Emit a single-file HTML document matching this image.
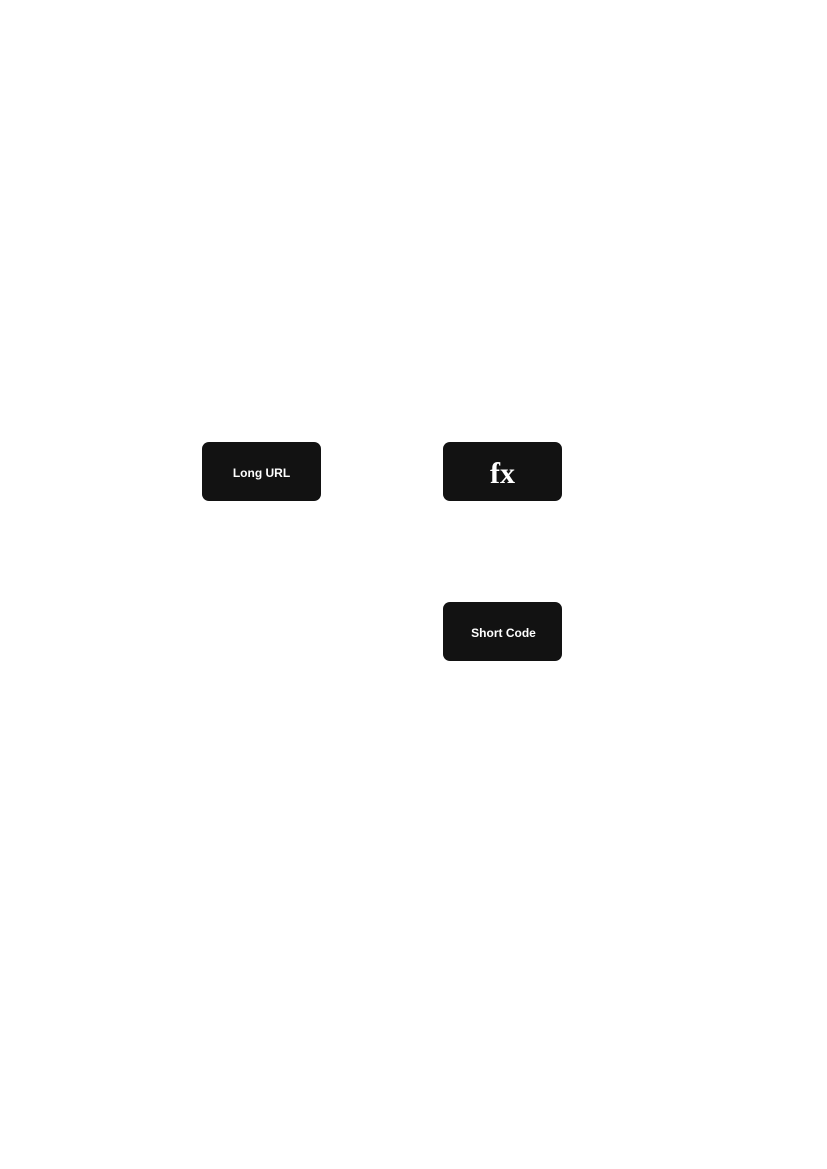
<!DOCTYPE html>
<html><head><meta charset="utf-8"><style>
html,body{margin:0;padding:0;background:#fff;width:827px;height:1169px;overflow:hidden}
.b{position:absolute;width:119px;height:59px;box-sizing:border-box;background:#121212;border-radius:7px;color:#fff;display:flex;align-items:center;justify-content:center;font-family:"Liberation Sans",sans-serif;font-weight:bold;font-size:12px}
.fx{font-family:"Liberation Serif",serif;font-size:30px}
</style></head><body>
<div class="b" style="left:202px;top:442px;padding-top:3px">Long URL</div>
<div class="b fx" style="left:443px;top:442px;padding-top:5px">fx</div>
<div class="b" style="left:443px;top:602px;padding-top:2px;padding-left:2px">Short Code</div>
</body></html>
